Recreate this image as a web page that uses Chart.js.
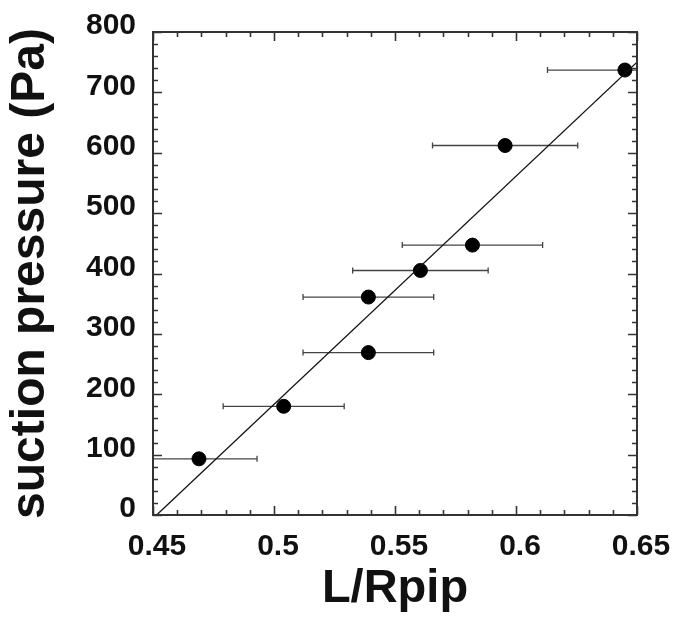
<!DOCTYPE html>
<html lang="en">
<head>
  <meta charset="UTF-8">
  <title>Suction pressure vs L/Rpip</title>
  <script src="https://cdn.jsdelivr.net/npm/chart.js"></script>
  <style>
    body {
      margin: 0;
      background-color: white;
    }
    #chart {
      display: block;
    }
  </style>
</head>
<body>
  <canvas id="chart" width="676" height="617"></canvas>

  <script>
    // measured values
    const lRpip = [0.469, 0.504, 0.539, 0.539, 0.5605, 0.582, 0.5955, 0.645];
    const pressure = [93, 180, 269, 361, 405, 447, 612, 737];
    const lRpipErr = [0.024, 0.025, 0.027, 0.027, 0.028, 0.029, 0.030, 0.032];

    // linear fit, end points
    const fitX = [0.4515, 0.65];
    const fitY = [0, 750];

    const xTicks = [0.45, 0.5, 0.55, 0.6, 0.65];
    const yTicks = [0, 100, 200, 300, 400, 500, 600, 700, 800];

    const fontFamily = "'Liberation Sans', Arial, sans-serif";

    // horizontal error bars, clipped to the plot area
    const errorBars = {
      id: 'errorBars',
      beforeDatasetsDraw(chart) {
        const { ctx, chartArea: a, scales: { x, y } } = chart;
        ctx.save();
        ctx.beginPath();
        ctx.rect(a.left, a.top, a.right - a.left, a.bottom - a.top);
        ctx.clip();
        ctx.strokeStyle = '#444';
        ctx.lineWidth = 1.3;
        lRpip.forEach((v, i) => {
          const py = y.getPixelForValue(pressure[i]);
          const x0 = x.getPixelForValue(v - lRpipErr[i]);
          const x1 = x.getPixelForValue(v + lRpipErr[i]);
          ctx.beginPath();
          ctx.moveTo(x0, py); ctx.lineTo(x1, py);
          ctx.moveTo(x0, py - 3); ctx.lineTo(x0, py + 3);
          ctx.moveTo(x1, py - 3); ctx.lineTo(x1, py + 3);
          ctx.stroke();
        });
        ctx.restore();
      }
    };

    // box frame with inward ticks on all four sides
    const frame = {
      id: 'frame',
      afterDraw(chart) {
        const { ctx, chartArea: a, scales: { x, y } } = chart;
        ctx.save();
        ctx.strokeStyle = '#333';
        ctx.lineWidth = 1.6;
        ctx.beginPath();
        for (let i = 0; i <= 20; i++) {
          const px = Math.round(x.getPixelForValue(0.45 + i * 0.01)) + 0.5;
          const len = i % 5 === 0 ? 9 : 5;
          ctx.moveTo(px, a.bottom); ctx.lineTo(px, a.bottom - len);
          ctx.moveTo(px, a.top); ctx.lineTo(px, a.top + len);
        }
        for (let i = 0; i <= 40; i++) {
          const py = Math.round(y.getPixelForValue(i * 20)) + 0.5;
          const len = i % 5 === 0 ? 9 : 5;
          ctx.moveTo(a.left, py); ctx.lineTo(a.left + len, py);
          ctx.moveTo(a.right, py); ctx.lineTo(a.right - len, py);
        }
        ctx.stroke();
        ctx.lineWidth = 2;
        ctx.strokeRect(a.left, a.top, a.right - a.left, a.bottom - a.top);
        ctx.restore();
      }
    };

    new Chart(document.getElementById('chart'), {
      type: 'scatter',
      data: {
        datasets: [
          {
            label: 'fit',
            type: 'line',
            data: fitX.map((v, i) => ({ x: v, y: fitY[i] })),
            borderColor: '#111',
            borderWidth: 1.3,
            pointRadius: 0,
            fill: false
          },
          {
            label: 'data',
            data: lRpip.map((v, i) => ({ x: v, y: pressure[i] })),
            backgroundColor: '#000',
            borderColor: '#000',
            pointRadius: 7,
            pointHoverRadius: 7
          }
        ]
      },
      plugins: [errorBars, frame],
      options: {
        responsive: false,
        animation: false,
        layout: { padding: { top: 32, right: 39, left: 0, bottom: 0 } },
        plugins: {
          legend: { display: false },
          tooltip: { enabled: false }
        },
        scales: {
          x: {
            type: 'linear',
            min: 0.45,
            max: 0.65,
            afterBuildTicks(scale) {
              scale.ticks = xTicks.map(v => ({ value: v }));
            },
            afterFit(scale) {
              scale.height = 102;
              scale.paddingLeft = 0;
              scale.paddingRight = 0;
            },
            grid: { display: false, drawTicks: false },
            border: { display: false },
            ticks: {
              color: '#111',
              padding: 14,
              labelOffset: 4,
              maxRotation: 0,
              font: { family: fontFamily, size: 30, weight: 'bold' },
              callback: v => String(v)
            },
            title: {
              display: true,
              text: 'L/Rpip',
              color: '#111',
              padding: { top: 3, bottom: 0 },
              font: { family: fontFamily, size: 47, weight: 'bold' }
            }
          },
          y: {
            type: 'linear',
            min: 0,
            max: 800,
            afterBuildTicks(scale) {
              scale.ticks = yTicks.map(v => ({ value: v }));
            },
            afterFit(scale) {
              scale.width = 153;
              scale.paddingTop = 0;
              scale.paddingBottom = 0;
            },
            grid: { display: false, drawTicks: false },
            border: { display: false },
            ticks: {
              color: '#111',
              padding: 17,
              labelOffset: -6,
              font: { family: fontFamily, size: 30, weight: 'bold' }
            },
            title: {
              display: true,
              text: 'suction pressure (Pa)',
              color: '#111',
              padding: { top: 2, bottom: 0 },
              font: { family: fontFamily, size: 48, weight: 'bold' }
            }
          }
        }
      }
    });
  </script>
</body>
</html>
